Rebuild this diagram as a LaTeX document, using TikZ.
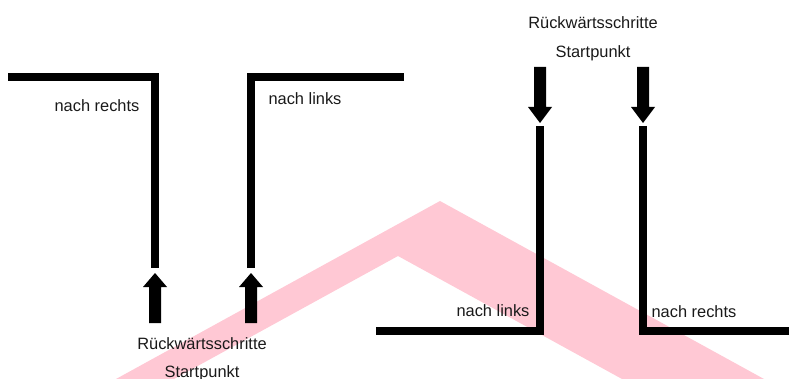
\documentclass[tikz,border=0pt]{standalone}
\usepackage{fontspec}
\setmainfont{Liberation Sans}
\definecolor{roofpink}{RGB}{255,200,212}
\begin{document}
\begin{tikzpicture}[x=1pt,y=-1pt,
  wall/.style={line width=8pt,line join=miter,line cap=butt,black},
  lbl/.style={inner sep=0pt,font=\fontsize{16.4pt}{18pt}\selectfont,text=black!90}]
\useasboundingbox (0,0) rectangle (789,379);
% pink roof band (background)
\fill[roofpink] (116,379) -- (440,201) -- (764,379) -- (622,379) -- (398,256) -- (174,379) -- cycle;
% walls
\draw[wall] (8,77) -- (155,77) -- (155,268);
\draw[wall] (251,268) -- (251,77) -- (404,77);
\draw[wall] (540,126) -- (540,330.5) -- (376,330.5);
\draw[wall] (643,126) -- (643,330.5) -- (789,330.5);
% up arrows
\foreach \cx in {155,251}{
  \fill (\cx-6,323) -- (\cx-6,287) -- (\cx-12,287) -- (\cx,273) -- (\cx+12,287) -- (\cx+6,287) -- (\cx+6,323) -- cycle;
}
% down arrows
\foreach \cx in {540,643}{
  \fill (\cx-6,67) -- (\cx-6,107) -- (\cx-12,107) -- (\cx,123) -- (\cx+12,107) -- (\cx+6,107) -- (\cx+6,67) -- cycle;
}
% labels
\node[lbl] (r1) at (97,106) {nach rechts};
\node[lbl] (l1) at (305,99) {nach links};
\node[lbl] (b1) at (202,344) {Rückwärtsschritte};
\node[lbl] (s1) at (202,373) {Startpunkt};
\node[lbl] (b2) at (593,23) {Rückwärtsschritte};
\node[lbl] (s2) at (593,53) {Startpunkt};
\node[lbl] (l2) at (493,311) {nach links};
\node[lbl] (r2) at (694,312) {nach rechts};
\end{tikzpicture}
\end{document}
